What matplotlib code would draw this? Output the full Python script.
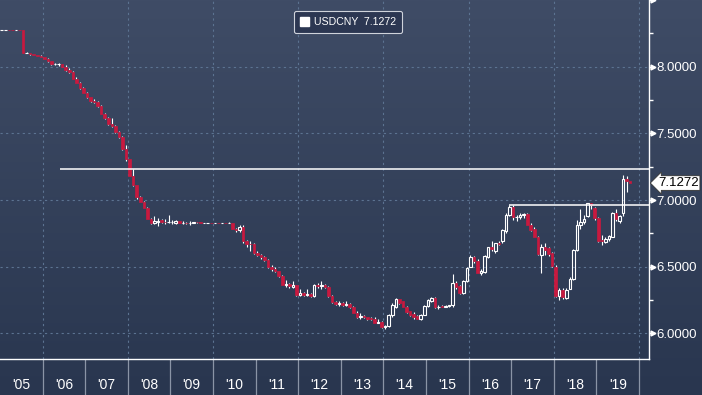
import numpy as np
import matplotlib
matplotlib.use("Agg")
import matplotlib.pyplot as plt
from matplotlib.colors import LinearSegmentedColormap
from matplotlib.patches import Patch
from matplotlib.transforms import blended_transform_factory

# monthly USDCNY candles, Jan 2005 .. Oct 2019
opens = [
    8.2765, 8.2765, 8.2766, 8.2765, 8.2764, 8.2766, 8.2765, 8.1030, 8.1050, 8.0920, 8.0850, 8.0835,
    8.0702, 8.0608, 8.0415, 8.0170, 8.0175, 8.0190, 7.9956, 7.9726, 7.9620, 7.9087, 7.8792, 7.8370,
    7.8041, 7.7714, 7.7410, 7.7315, 7.7060, 7.6485, 7.6155, 7.5680, 7.5580, 7.5108, 7.4692, 7.3850,
    7.3046, 7.1818, 7.1100, 7.0190, 6.9870, 6.9433, 6.8591, 6.8290, 6.8380, 6.8480, 6.8330, 6.8320,
    6.8350, 6.8250, 6.8390, 6.8300, 6.8310, 6.8270, 6.8300, 6.8320, 6.8315, 6.8270, 6.8275, 6.8275,
    6.8270, 6.8270, 6.8260, 6.8263, 6.8255, 6.8277, 6.7815, 6.7740, 6.7980, 6.6905, 6.6710, 6.6690,
    6.6030, 6.5880, 6.5720, 6.5500, 6.4950, 6.4800, 6.4640, 6.4300, 6.3650, 6.3700, 6.3450, 6.3600,
    6.2850, 6.3000, 6.2900, 6.2950, 6.2800, 6.3650, 6.3550, 6.3650, 6.3500, 6.2800, 6.2330, 6.2200,
    6.2300, 6.2100, 6.2200, 6.2000, 6.1550, 6.1250, 6.1300, 6.1200, 6.1150, 6.1100, 6.0800, 6.0850,
    6.0450, 6.0550, 6.1400, 6.2000, 6.2550, 6.2400, 6.2000, 6.1650, 6.1450, 6.1300, 6.1050, 6.1400,
    6.2050, 6.2400, 6.2650, 6.1950, 6.2050, 6.2000, 6.2050, 6.2100, 6.3800, 6.3550, 6.3050, 6.3950,
    6.5000, 6.5750, 6.5450, 6.4550, 6.4600, 6.5750, 6.6500, 6.6150, 6.6800, 6.6900, 6.7650, 6.8900,
    6.9500, 6.8700, 6.8750, 6.8900, 6.8950, 6.8100, 6.7850, 6.7250, 6.5900, 6.6450, 6.6400, 6.6000,
    6.5000, 6.2800, 6.3250, 6.2650, 6.3350, 6.4100, 6.6250, 6.8100, 6.8350, 6.8800, 6.9740, 6.9400,
    6.8650, 6.7000, 6.6850, 6.7050, 6.7250, 6.9000, 6.8400, 6.9000, 7.1560, 7.1400,
]
highs = [
    8.2766, 8.2767, 8.2767, 8.2766, 8.2767, 8.2767, 8.2765, 8.1080, 8.1060, 8.0930, 8.0860, 8.0850,
    8.0720, 8.0650, 8.0450, 8.0260, 8.0260, 8.0220, 8.0120, 7.9900, 7.9650, 7.9250, 7.8850, 7.8450,
    7.8100, 7.7750, 7.7550, 7.7400, 7.7100, 7.6550, 7.6200, 7.6150, 7.5600, 7.5200, 7.4800, 7.4100,
    7.3100, 7.2300, 7.1150, 7.0300, 6.9950, 6.9450, 6.8650, 6.8800, 6.8650, 6.8600, 6.8600, 6.8900,
    6.8500, 6.8500, 6.8450, 6.8400, 6.8350, 6.8400, 6.8350, 6.8360, 6.8330, 6.8300, 6.8300, 6.8290,
    6.8300, 6.8300, 6.8280, 6.8290, 6.8330, 6.8300, 6.7900, 6.8150, 6.8100, 6.7000, 6.6950, 6.6800,
    6.6200, 6.5950, 6.5800, 6.5600, 6.5100, 6.4950, 6.4700, 6.4350, 6.4000, 6.3800, 6.3900, 6.3650,
    6.3300, 6.3100, 6.3300, 6.3050, 6.3700, 6.3800, 6.3900, 6.3700, 6.3550, 6.2850, 6.2450, 6.2400,
    6.2350, 6.2450, 6.2250, 6.2050, 6.1650, 6.1500, 6.1400, 6.1250, 6.1250, 6.1200, 6.1100, 6.0900,
    6.0600, 6.1450, 6.2250, 6.2650, 6.2600, 6.2450, 6.2050, 6.1700, 6.1600, 6.1350, 6.1450, 6.2150,
    6.2550, 6.2700, 6.2700, 6.2100, 6.2100, 6.2150, 6.2150, 6.4450, 6.3900, 6.3650, 6.4000, 6.4950,
    6.5900, 6.5800, 6.5550, 6.4800, 6.5850, 6.6500, 6.6900, 6.6800, 6.6900, 6.7800, 6.9000, 6.9640,
    6.9600, 6.8900, 6.9000, 6.9000, 6.9050, 6.8300, 6.8000, 6.7300, 6.6700, 6.6800, 6.6450, 6.6100,
    6.5100, 6.3400, 6.3400, 6.3400, 6.4200, 6.6300, 6.8500, 6.9300, 6.8900, 6.9800, 6.9800, 6.9450,
    6.8700, 6.7400, 6.7250, 6.7400, 6.9100, 6.9300, 6.8900, 7.1900, 7.1800, 7.1400,
]
lows = [
    8.2764, 8.2764, 8.2764, 8.2763, 8.2763, 8.2764, 8.1000, 8.0990, 8.0900, 8.0840, 8.0800, 8.0690,
    8.0550, 8.0380, 8.0150, 8.0100, 8.0080, 7.9940, 7.9700, 7.9560, 7.9060, 7.8750, 7.8300, 7.8000,
    7.7650, 7.7350, 7.7300, 7.7000, 7.6450, 7.6100, 7.5600, 7.5450, 7.5020, 7.4620, 7.3750, 7.2960,
    7.1810, 7.1050, 7.0100, 6.9850, 6.9400, 6.8550, 6.8200, 6.8200, 6.8050, 6.8250, 6.8200, 6.8250,
    6.8200, 6.8200, 6.8250, 6.8200, 6.8200, 6.8150, 6.8250, 6.8280, 6.8250, 6.8250, 6.8260, 6.8260,
    6.8260, 6.8250, 6.8250, 6.8240, 6.8240, 6.7800, 6.7600, 6.7600, 6.6800, 6.6500, 6.6200, 6.5950,
    6.5800, 6.5600, 6.5400, 6.4900, 6.4700, 6.4600, 6.4250, 6.3600, 6.3500, 6.3400, 6.3400, 6.2800,
    6.2800, 6.2800, 6.2800, 6.2750, 6.2700, 6.3400, 6.3350, 6.3400, 6.2750, 6.2300, 6.2100, 6.2050,
    6.2050, 6.2050, 6.1900, 6.1500, 6.1150, 6.1050, 6.1150, 6.1000, 6.1000, 6.0750, 6.0750, 6.0400,
    6.0350, 6.0450, 6.1250, 6.1900, 6.2200, 6.1950, 6.1550, 6.1300, 6.1050, 6.1050, 6.1000, 6.1350,
    6.1950, 6.2350, 6.1900, 6.1800, 6.1950, 6.1950, 6.2000, 6.2000, 6.3300, 6.2950, 6.2950, 6.3850,
    6.4950, 6.5300, 6.4500, 6.4400, 6.4550, 6.5650, 6.6200, 6.6000, 6.6600, 6.6800, 6.7500, 6.8800,
    6.8500, 6.8400, 6.8600, 6.8650, 6.8100, 6.7700, 6.7200, 6.5900, 6.4500, 6.5900, 6.5800, 6.5000,
    6.2750, 6.2500, 6.2600, 6.2600, 6.3300, 6.4000, 6.6150, 6.7800, 6.8200, 6.8700, 6.9300, 6.8500,
    6.6850, 6.6600, 6.6750, 6.6900, 6.7200, 6.8400, 6.8300, 6.8800, 7.0600, 7.1250,
]
closes = [
    8.2765, 8.2766, 8.2765, 8.2764, 8.2766, 8.2765, 8.1030, 8.1050, 8.0920, 8.0850, 8.0835, 8.0702,
    8.0608, 8.0415, 8.0170, 8.0175, 8.0190, 7.9956, 7.9726, 7.9620, 7.9087, 7.8792, 7.8370, 7.8041,
    7.7714, 7.7410, 7.7315, 7.7060, 7.6485, 7.6155, 7.5680, 7.5580, 7.5108, 7.4692, 7.3850, 7.3046,
    7.1818, 7.1100, 7.0190, 6.9870, 6.9433, 6.8591, 6.8290, 6.8400, 6.8390, 6.8330, 6.8320, 6.8350,
    6.8380, 6.8390, 6.8300, 6.8310, 6.8270, 6.8300, 6.8320, 6.8315, 6.8270, 6.8275, 6.8275, 6.8270,
    6.8270, 6.8260, 6.8263, 6.8255, 6.8277, 6.7815, 6.7740, 6.7980, 6.6905, 6.6705, 6.6690, 6.6030,
    6.5880, 6.5720, 6.5500, 6.4950, 6.4800, 6.4640, 6.4300, 6.3650, 6.3700, 6.3560, 6.3600, 6.2850,
    6.3000, 6.2900, 6.2950, 6.2800, 6.3650, 6.3550, 6.3650, 6.3500, 6.2800, 6.2330, 6.2200, 6.2250,
    6.2100, 6.2200, 6.2000, 6.1550, 6.1250, 6.1300, 6.1200, 6.1050, 6.1100, 6.0800, 6.0850, 6.0450,
    6.0550, 6.1400, 6.2100, 6.2550, 6.2300, 6.2000, 6.1600, 6.1400, 6.1200, 6.1100, 6.1400, 6.2050,
    6.2500, 6.2650, 6.1950, 6.2000, 6.2000, 6.2050, 6.2100, 6.3800, 6.3450, 6.3000, 6.3950, 6.4900,
    6.5750, 6.5400, 6.4550, 6.4700, 6.5800, 6.6450, 6.6300, 6.6750, 6.6700, 6.7750, 6.8900, 6.9450,
    6.8750, 6.8750, 6.8850, 6.8920, 6.8150, 6.7750, 6.7250, 6.5950, 6.6450, 6.6250, 6.5950, 6.5050,
    6.2800, 6.3250, 6.2700, 6.3250, 6.4100, 6.6250, 6.8100, 6.8350, 6.8600, 6.9750, 6.9600, 6.8650,
    6.6950, 6.6900, 6.7050, 6.7300, 6.9000, 6.8600, 6.8800, 7.1560, 7.1400, 7.1272,
]

year_labels = ["'05", "'06", "'07", "'08", "'09", "'10", "'11", "'12", "'13",
               "'14", "'15", "'16", "'17", "'18", "'19"]
price_ticks = [6.0, 6.5, 7.0, 7.5, 8.0]
level_values = [7.23, 6.964]
level_starts = [16.9, 143.5]   # month index where each drawn line begins
last_price = 7.1272
ticker = "USDCNY"

RED = "#c8193f"
GRID = "#5c7391"
plt.rcParams["font.family"] = ["Liberation Sans", "DejaVu Sans"]

W, H = 702, 395
fig = plt.figure(figsize=(W / 100, H / 100), dpi=100)

# background gradient
bg = fig.add_axes([0, 0, 1, 1], zorder=-5)
cmap = LinearSegmentedColormap.from_list("bg", ["#29364f", "#3f4c66"])
bg.imshow(np.linspace(0, 1, 256).reshape(-1, 1)[::-1], aspect="auto", cmap=cmap,
          extent=[0, 1, 0, 1])
bg.axis("off")

ax = fig.add_axes([0, 36 / H, 649 / W, 359 / H])
ax.patch.set_alpha(0)

o = np.array(opens)
hi = np.array(highs)
lo = np.array(lows)
c = np.array(closes)
x = np.arange(len(c)) + 0.5
up = c >= o
top = np.maximum(o, c)
bot = np.minimum(o, c)

# grid
for p in price_ticks:
    ax.axhline(p, color=GRID, lw=0.8, ls=(0, (2, 3)), zorder=0)
for k in range(1, len(year_labels) + 1, 2):
    ax.axvline(12 * k, color=GRID, lw=0.8, ls=(0, (2, 3)), zorder=0)

# wicks
ax.vlines(x, top, hi, color="white", lw=0.8, zorder=2)
ax.vlines(x, lo, bot, color="white", lw=0.8, zorder=2)
# bodies
ax.bar(x[~up], (top - bot)[~up], bottom=bot[~up], width=0.72, color=RED,
       edgecolor=RED, linewidth=0.5, zorder=3)
ax.bar(x[up], (top - bot)[up], bottom=bot[up], width=0.72, facecolor="none",
       edgecolor="white", linewidth=0.8, zorder=3)

# drawn levels
xmax = 182.8
for lv, st in zip(level_values, level_starts):
    ax.hlines(lv, st, xmax, color="white", lw=1.1, zorder=4)

ax.set_xlim(0, xmax)
ax.set_ylim(5.8075, 8.5)

for s in ["left", "top"]:
    ax.spines[s].set_visible(False)
for s in ["right", "bottom"]:
    ax.spines[s].set_color("white")
    ax.spines[s].set_linewidth(1.0)

# right axis
ax.yaxis.tick_right()
ax.set_yticks(price_ticks + [8.5])
ax.set_yticklabels([f"{p:.4f}" for p in price_ticks] + [""])
ax.set_yticks([6.25, 6.75, 7.25, 7.75, 8.25], minor=True)
ax.tick_params(axis="y", which="major", length=3, width=1, color="white",
               labelcolor="white", labelsize=9.5, pad=2.5)
ax.tick_params(axis="y", which="minor", length=3, width=1, color="white")
tr = blended_transform_factory(ax.transAxes, ax.transData)
ax.plot([1 + 4 / 649] * 6, price_ticks + [8.5], ls="none", marker=">",
        ms=3.5, color="white", transform=tr, clip_on=False, zorder=5)

# bottom axis: year cells
ax.set_xticks([12 * k for k in range(1, len(year_labels) + 1)])
ax.set_xticklabels([])
ax.set_xticks([12 * k + 6 for k in range(len(year_labels))], minor=True)
ax.set_xticklabels(year_labels, minor=True)
ax.tick_params(axis="x", which="major", length=27, width=0.9, color="#8a94a6",
               direction="out")
ax.tick_params(axis="x", which="minor", length=0, pad=13.5, labelcolor="white",
               labelsize=10)

# last price tag
ax.text(1 + 9 / 649, last_price, f"{last_price:.4f}", transform=tr, ha="left",
        va="center", fontsize=9.5, color="black", clip_on=False, zorder=6,
        bbox=dict(boxstyle="larrow,pad=0.1", fc="white", ec="#333333", lw=0.6))

# legend
leg = ax.legend(handles=[Patch(facecolor="white", edgecolor="white")],
                labels=[f"{ticker}  {last_price:.4f}"], loc="upper center",
                bbox_to_anchor=(348 / 649, 1 - 6 / 359), fontsize=7.6,
                handlelength=0.9, handleheight=0.9, handletextpad=0.5,
                borderpad=0.55, fancybox=True, framealpha=1)
leg.get_frame().set_facecolor("#2c3752")
leg.get_frame().set_edgecolor("#cfd3db")
leg.get_frame().set_linewidth(0.8)
for t in leg.get_texts():
    t.set_color("white")

fig.savefig("out.png", dpi=100)
